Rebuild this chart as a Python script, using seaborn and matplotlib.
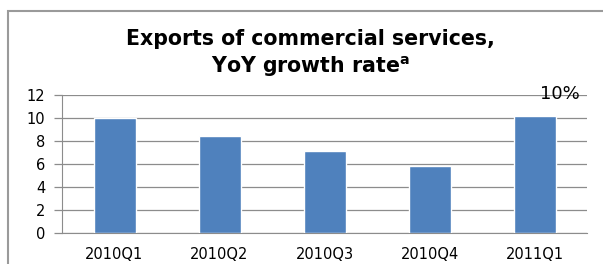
import matplotlib
matplotlib.use("Agg")
import matplotlib.pyplot as plt
import seaborn as sns
import pandas as pd
from matplotlib.patches import Rectangle

quarters = ["2010Q1", "2010Q2", "2010Q3", "2010Q4", "2011Q1"]
growth = [10.0, 8.4, 7.1, 5.8, 10.2]
yticks = [0, 2, 4, 6, 8, 10, 12]
title = "Exports of commercial services,\nYoY growth rate$^{\\mathregular{a}}$"
corner_label = "10%"

df = pd.DataFrame({"quarter": quarters, "growth": growth})

sns.set_style("white", {"text.color": "black", "xtick.color": "black",
                        "ytick.color": "black"})
plt.rcParams["font.family"] = ["DejaVu Sans"]

fig = plt.figure(figsize=(6.03, 2.64), dpi=100)
ax = fig.add_axes([62 / 603, 1 - 233 / 264, (587 - 62) / 603, (233 - 95) / 264])

sns.barplot(data=df, x="quarter", y="growth", color="#4F81BD", width=0.4,
            saturation=1, ax=ax, zorder=3)

ax.set_ylim(0, 12)
ax.set_xlim(-0.5, len(quarters) - 0.5)
ax.set_yticks(yticks)
ax.yaxis.grid(True, color="#8C8C8C", linewidth=0.9)
ax.set_axisbelow(True)
ax.set_xlabel("")
ax.set_ylabel("")

for s in ["top", "right"]:
    ax.spines[s].set_visible(False)
ax.spines["left"].set_color("#8C8C8C")
ax.spines["bottom"].set_color("#8C8C8C")

# category boundary ticks like Excel
ax.set_xticks([i - 0.5 for i in range(len(quarters) + 1)], minor=True)
ax.tick_params(axis="x", which="minor", length=4, color="#8C8C8C", width=0.9)
ax.tick_params(axis="x", which="major", length=0, labelsize=10.5, pad=10,
               labelcolor="black")
ax.tick_params(axis="y", length=6, color="#8C8C8C", width=0.9,
               labelsize=10.5, left=True, pad=6, labelcolor="black")

ax.text(0.987, 12.05, corner_label, ha="right", va="center", fontsize=13,
        color="black", transform=ax.get_yaxis_transform())

fig.text(310 / 603, 1 - 54 / 264, title, ha="center", va="center",
         fontsize=14.8, fontweight="bold", linespacing=1.3, color="black")

# outer chart frame
fig.patches.append(Rectangle((8 / 603, -0.1), 1.2, 1 - 11 / 264 + 0.1,
                             transform=fig.transFigure, fill=False,
                             edgecolor="#9A9A9A", linewidth=1.5))

fig.savefig("out.png", dpi=100)
